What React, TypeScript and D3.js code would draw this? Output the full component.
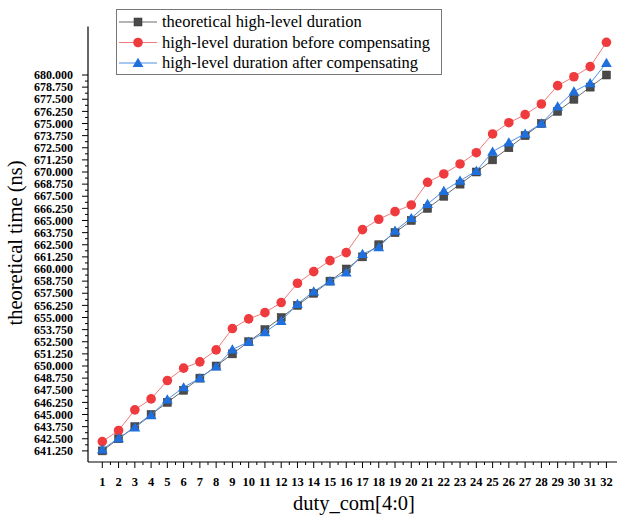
import React from 'react';
import * as d3 from 'd3';

// duty_com[4:0] codes 1..32
const dutyCodes = d3.range(1, 33);

// theoretical high-level duration (ns)
const theoretical = [
  641.25, 642.5, 643.75, 645.0, 646.25, 647.5, 648.75, 650.0,
  651.25, 652.5, 653.75, 655.0, 656.25, 657.5, 658.75, 660.0,
  661.25, 662.5, 663.75, 665.0, 666.25, 667.5, 668.75, 670.0,
  671.25, 672.5, 673.75, 675.0, 676.25, 677.5, 678.75, 680.0,
];

// high-level duration before compensating (ns)
const beforeComp = [
  642.21, 643.35, 645.48, 646.61, 648.5, 649.78, 650.43, 651.66,
  653.86, 654.86, 655.5, 656.54, 658.53, 659.73, 660.86, 661.69,
  664.06, 665.13, 665.91, 666.6, 668.94, 669.8, 670.83, 671.99,
  673.92, 675.08, 675.91, 677.01, 678.9, 679.82, 680.86, 683.37,
];

// high-level duration after compensating (ns)
const afterComp = [
  641.4, 642.55, 643.65, 644.93, 646.55, 647.8, 648.75, 649.94,
  651.7, 652.5, 653.48, 654.65, 656.4, 657.68, 658.75, 659.65,
  661.55, 662.25, 663.95, 665.25, 666.7, 668.05, 669.1, 670.1,
  672.1, 673.05, 673.95, 675.0, 676.75, 678.3, 679.15, 681.25,
];

// y tick values 641.250 .. 680.000 step 1.25
const yTickValues = d3.range(0, 32).map(k => 641.25 + k * 1.25);

const legendLabels = [
  'theoretical high-level duration',
  'high-level duration before compensating',
  'high-level duration after compensating',
];

const W = 618;
const H = 522;
const serif = '"Liberation Serif", "Times New Roman", serif';

const colors = {
  theo: '#4a4a4a',
  theoLine: '#6a6a6a',
  red: '#ef3b3d',
  redLine: '#f07a7a',
  blue: '#1f6fdc',
  blueLine: '#4f8fe4',
};

const Marker = ({ kind, x, y }: { kind: string; x: number; y: number }) => {
  if (kind === 'square') {
    return <rect x={x - 4} y={y - 4} width={8} height={8} fill={colors.theo} stroke="#333" strokeWidth={0.5} />;
  }
  if (kind === 'circle') {
    return <circle cx={x} cy={y} r={4.8} fill={colors.red} />;
  }
  return (
    <path
      d={`M${x},${y - 5.2}L${x + 5.4},${y + 4}L${x - 5.4},${y + 4}Z`}
      fill={colors.blue}
    />
  );
};

export default function App() {
  const x = d3.scaleLinear().domain([0.12, 32.65]).range([88, 617]);
  const y = d3.scaleLinear().domain([640, 685]).range([463, 26.5]);

  const line = (vals: number[]) =>
    d3.line<number>()
      .x((_, i) => x(dutyCodes[i]))
      .y(v => y(v))(vals) || '';

  const series = [
    { vals: theoretical, kind: 'square', line: colors.theoLine },
    { vals: beforeComp, kind: 'circle', line: colors.redLine },
    { vals: afterComp, kind: 'triangle', line: colors.blueLine },
  ];

  const y0 = y.range()[0] - 1;
  const xMinor = dutyCodes.slice(0, -1).map(d => d + 0.5);
  const yMinor = yTickValues.slice(0, -1).map(v => v + 0.625);

  return (
    <svg
      width={W}
      height={H}
      style={{ position: 'absolute', left: 0, top: 0, background: '#fff' }}
      fontFamily={serif}
    >
      {/* axes */}
      <line x1={88} x2={88} y1={26.5} y2={y0} stroke="#000" strokeWidth={1.2} />
      <line x1={88} x2={617} y1={y0} y2={y0} stroke="#000" strokeWidth={1.2} />

      {/* y ticks */}
      {yTickValues.map(v => (
        <g key={v}>
          <line x1={82} x2={88} y1={y(v)} y2={y(v)} stroke="#000" strokeWidth={1} />
          <text x={73} y={y(v)} dy="0.35em" textAnchor="end" fontSize={12} fontWeight="bold">
            {d3.format('.3f')(v)}
          </text>
        </g>
      ))}
      {yMinor.map(v => (
        <line key={v} x1={85} x2={88} y1={y(v)} y2={y(v)} stroke="#000" strokeWidth={1} />
      ))}

      {/* x ticks */}
      {dutyCodes.map(d => (
        <g key={d}>
          <line x1={x(d)} x2={x(d)} y1={y0} y2={y0 + 6} stroke="#000" strokeWidth={1} />
          <text x={x(d)} y={486} textAnchor="middle" fontSize={12.5} fontWeight="bold">
            {d}
          </text>
        </g>
      ))}
      {xMinor.map(d => (
        <line key={d} x1={x(d)} x2={x(d)} y1={y0} y2={y0 + 3} stroke="#000" strokeWidth={1} />
      ))}

      {/* axis titles */}
      <text x={354} y={510} textAnchor="middle" fontSize={20.5}>duty_com[4:0]</text>
      <text
        transform={`translate(22,243) rotate(-90)`}
        textAnchor="middle"
        fontSize={20.5}
      >
        theoretical time (ns)
      </text>

      {/* series */}
      {series.map(s => (
        <g key={s.kind}>
          <path d={line(s.vals)} fill="none" stroke={s.line} strokeWidth={1} />
          {s.vals.map((v, i) => (
            <Marker key={i} kind={s.kind} x={x(dutyCodes[i])} y={y(v)} />
          ))}
        </g>
      ))}

      {/* legend */}
      <rect x={116.5} y={9.5} width={325} height={65} fill="#fff" stroke="#777" strokeWidth={1} />
      {legendLabels.map((lab, i) => {
        const ly = 22 + i * 20.5;
        const s = series[i];
        return (
          <g key={lab}>
            <line x1={119} x2={157} y1={ly} y2={ly} stroke={s.line} strokeWidth={1} />
            <Marker kind={s.kind} x={138} y={ly} />
            <text x={162} y={ly} dy="0.33em" fontSize={16.5}>{lab}</text>
          </g>
        );
      })}
    </svg>
  );
}
